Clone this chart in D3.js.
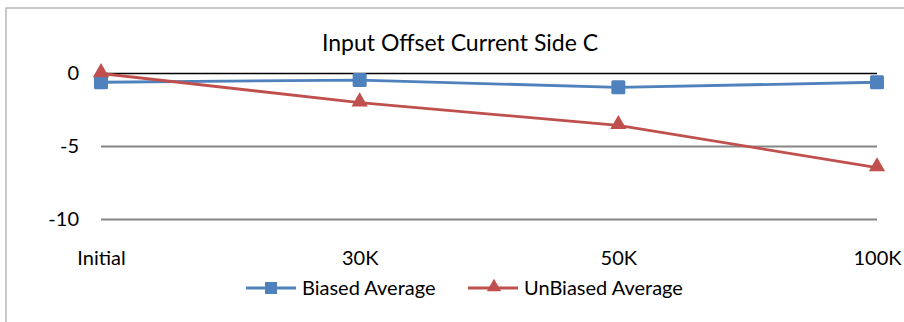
<!DOCTYPE html>
<html>
<head>
<meta charset="utf-8">
<script src="https://cdn.jsdelivr.net/npm/d3@7"></script>
<style>
  html, body { margin: 0; padding: 0; background: #fff; }
  svg { display: block; font-family: Lato, "Open Sans", sans-serif; }
</style>
</head>
<body>
<svg id="chart" width="904" height="322"></svg>
<script>
// Categories along the x axis
const categories = ["Initial", "30K", "50K", "100K"];
// Series values
const biased = [-0.6, -0.45, -0.95, -0.6];
const unbiased = [0, -2.0, -3.55, -6.45];
// Y axis ticks
const yTicks = [0, -5, -10];
const seriesNames = ["Biased Average", "UnBiased Average"];
const seriesColors = ["#4f81bd", "#c0504d"];

const svg = d3.select("#chart");
const W = 904, H = 322;
const FONT = "Lato, 'Open Sans', sans-serif";

// Frame
svg.append("rect").attr("x", 6).attr("y", 8).attr("width", W + 10).attr("height", H)
  .attr("fill", "#fff").attr("stroke", "#a6a6a6").attr("stroke-width", 1.2);

const x = d3.scalePoint().domain(categories).range([101, 877]);
const y = d3.scaleLinear().domain([-10, 0]).range([219.5, 73.5]);

// Title
svg.append("text").attr("x", 460).attr("y", 51).attr("text-anchor", "middle")
  .attr("font-size", 23).attr("fill", "#000").text("Input Offset Current Side C");

// Gridlines
svg.append("g").selectAll("line").data(yTicks).join("line")
  .attr("x1", 101).attr("x2", 877)
  .attr("y1", d => y(d)).attr("y2", d => y(d))
  .attr("stroke", d => d === 0 ? "#000" : "#868686")
  .attr("stroke-width", d => d === 0 ? 1.3 : 2);

// Y axis labels (plain hyphen for negatives)
const yAxis = d3.axisLeft(y).tickValues(yTicks).tickSize(0).tickPadding(0)
  .tickFormat(d => String(d));
svg.append("g").attr("transform", "translate(79,0)").call(yAxis)
  .call(g => g.select(".domain").remove())
  .selectAll("text").attr("font-size", 20).attr("fill", "#000")
  .attr("font-family", FONT).attr("dy", "0.3em");

// X axis labels
const xAxis = d3.axisBottom(x).tickSize(0).tickPadding(0);
svg.append("g").attr("transform", "translate(0,251)").call(xAxis)
  .call(g => g.select(".domain").remove())
  .selectAll("text").attr("font-size", 20).attr("fill", "#000")
  .attr("font-family", FONT);

const line = d3.line().x((d, i) => x(categories[i])).y(d => y(d));
const tri = d3.symbol().type(d3.symbolTriangle).size(115);

// Biased series
svg.append("path").datum(biased).attr("d", line).attr("fill", "none")
  .attr("stroke", seriesColors[0]).attr("stroke-width", 2.8);
svg.append("g").selectAll("rect").data(biased).join("rect")
  .attr("x", (d, i) => x(categories[i]) - 7).attr("y", d => y(d) - 7)
  .attr("width", 14).attr("height", 14).attr("rx", 1.5)
  .attr("fill", seriesColors[0]);

// Unbiased series
svg.append("path").datum(unbiased).attr("d", line).attr("fill", "none")
  .attr("stroke", seriesColors[1]).attr("stroke-width", 2.8);
svg.append("g").selectAll("path").data(unbiased).join("path")
  .attr("d", tri)
  .attr("transform", (d, i) => `translate(${x(categories[i])},${y(d) - 1})`)
  .attr("fill", seriesColors[1]);

// Legend
const legend = svg.append("g");
const lx = [246, 468];
seriesNames.forEach((name, i) => {
  const g = legend.append("g");
  g.append("line").attr("x1", lx[i]).attr("x2", lx[i] + 50).attr("y1", 288).attr("y2", 288)
    .attr("stroke", seriesColors[i]).attr("stroke-width", 3);
  if (i === 0) {
    g.append("rect").attr("x", lx[i] + 25 - 6).attr("y", 282).attr("width", 12).attr("height", 12)
      .attr("fill", seriesColors[i]);
  } else {
    g.append("path").attr("d", d3.symbol().type(d3.symbolTriangle).size(90))
      .attr("transform", `translate(${lx[i] + 26},287)`).attr("fill", seriesColors[i]);
  }
  g.append("text").attr("x", lx[i] + 56).attr("y", 295).attr("font-size", 20)
    .attr("fill", "#000").text(name);
});
</script>
</body>
</html>
